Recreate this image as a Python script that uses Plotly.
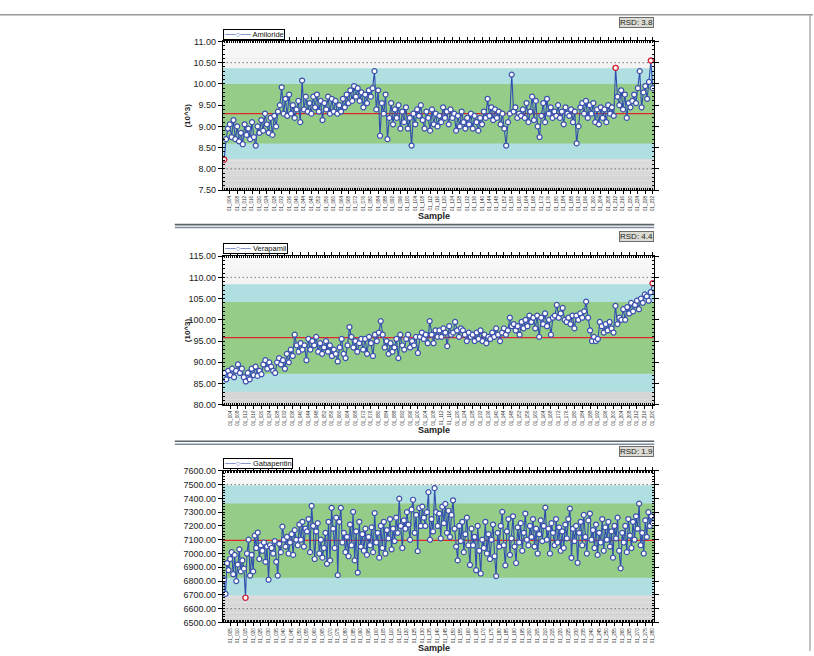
import plotly.graph_objects as go

# ---------------- data ----------------
amiloride = [
    8.22, 8.70, 8.95, 9.05, 8.75, 9.15, 8.70, 9.00, 8.65, 8.85,
    8.58, 9.05, 8.80, 8.95, 8.70, 9.10, 8.75, 8.55, 9.00, 8.85,
    9.15, 8.90, 9.30, 9.05, 8.85, 9.20, 8.80, 9.25, 9.00, 9.35,
    9.50, 9.92, 9.30, 9.65, 9.25, 9.75, 9.30, 9.50, 9.20, 9.40,
    9.60, 9.10, 10.08, 9.40, 9.70, 9.35, 9.55, 9.30, 9.70, 9.45,
    9.75, 9.35, 9.60, 9.15, 9.55, 9.40, 9.70, 9.30, 9.65, 9.35,
    9.60, 9.30, 9.50, 9.35, 9.65, 9.45, 9.75, 9.55, 9.85, 9.60,
    9.95, 9.70, 9.90, 9.60, 9.80, 9.45, 9.75, 9.55, 9.85, 9.70,
    9.90, 10.30, 9.40, 9.85, 8.78, 9.55, 9.30, 9.75, 8.70, 9.20,
    9.55, 9.05, 9.40, 9.20, 9.50, 8.95, 9.35, 9.10, 9.45, 8.95,
    9.20, 8.55, 9.30, 9.05, 9.40, 9.25, 9.50, 9.15, 8.95, 9.35,
    9.20, 8.90, 9.40, 9.05, 9.30, 9.00, 9.25, 9.10, 9.45, 9.20,
    9.35, 9.05, 9.40, 9.20, 9.30, 8.90, 9.25, 9.00, 9.35, 9.10,
    8.95, 9.20, 9.05, 9.30, 8.95, 9.25, 9.10, 8.90, 9.20, 9.05,
    9.35, 9.20, 9.65, 9.25, 9.45, 9.15, 9.40, 9.20, 9.35, 9.05,
    9.30, 8.95, 8.55, 9.10, 9.30, 10.22, 9.35, 9.45, 9.20, 9.30,
    9.25, 9.40, 9.20, 9.55, 9.10, 9.35, 9.70, 9.15, 9.60, 9.00,
    8.75, 9.25, 9.55, 9.10, 9.65, 9.30, 9.45, 9.20, 9.35, 9.25,
    9.50, 9.20, 9.35, 9.05, 9.45, 9.30, 9.25, 9.40, 9.10, 9.35,
    8.60, 9.00, 9.45, 9.55, 9.30, 9.60, 9.20, 9.50, 9.30, 9.55,
    9.10, 9.40, 9.05, 9.45, 9.20, 9.40, 9.10, 9.50, 9.30, 9.45,
    9.25, 10.38, 9.70, 9.50, 9.85, 9.40, 9.75, 9.20, 9.55, 9.45,
    9.60, 9.75, 9.55, 9.90, 10.30, 9.45, 9.80, 9.95, 9.65, 10.05,
    10.55, 9.90,
]

verapamil = [
    87.5, 86.0, 88.0, 87.0, 88.5, 86.5, 88.0, 89.5, 87.5, 88.5,
    86.5, 85.5, 87.5, 86.0, 88.5, 87.0, 89.0, 86.8, 88.0, 87.2,
    89.5, 90.5, 88.5, 90.0, 89.0, 88.0, 87.5, 90.0, 91.0, 89.5,
    90.5, 88.5, 92.0, 90.0, 93.0, 91.5, 96.5, 94.0, 92.5, 94.5,
    93.0, 94.0, 90.5, 95.5, 93.0, 95.0, 94.0, 96.0, 92.5, 94.5,
    92.0, 93.5, 95.0, 92.5, 94.0, 91.5, 93.0, 92.0, 90.2, 93.5,
    95.5, 92.0, 91.0, 94.0, 98.3, 96.0, 93.5, 95.0, 92.5, 94.5,
    95.5, 93.0, 95.5, 92.0, 96.0, 94.5, 91.5, 96.5, 95.0, 97.0,
    99.7, 96.5, 93.5, 95.0, 92.0, 94.5, 92.5, 93.5, 95.5, 91.0,
    96.5, 94.0, 93.0, 95.5, 96.5, 93.5, 95.0, 94.0, 96.0, 92.2,
    96.0, 97.0, 95.5, 96.5, 94.5, 99.7, 96.5, 94.5, 97.5, 96.0,
    97.5, 96.0, 98.0, 97.0, 93.8, 98.5, 96.5, 97.0, 99.5, 97.5,
    96.0, 98.0, 97.5, 96.5, 95.0, 97.0, 96.0, 96.5, 95.0, 97.0,
    95.5, 97.5, 95.0, 96.5, 94.5, 96.0, 95.5, 97.0, 96.0, 98.0,
    96.5, 95.0, 97.0, 98.0, 96.5, 97.5, 100.5, 98.5, 99.0, 97.5,
    98.5, 96.5, 99.5, 98.0, 100.0, 98.5, 101.0, 99.5, 100.5, 98.0,
    101.0, 96.0, 100.5, 99.0, 101.5, 98.5, 100.0, 96.5, 100.5, 101.0,
    103.5, 100.5, 101.5, 102.8, 100.0, 99.5, 100.5, 99.0, 101.0, 98.0,
    101.0, 100.0, 101.5, 100.5, 102.0, 104.3, 100.5, 97.5, 95.0, 96.0,
    95.0, 95.5, 99.5, 98.5, 97.0, 99.0, 97.5, 99.5, 98.0, 97.0,
    103.3, 99.0, 100.5, 100.0, 102.5, 100.0, 103.0, 101.5, 104.0, 102.0,
    103.5, 104.5, 102.5, 105.0, 104.0, 106.0, 105.5, 104.5, 106.5, 108.6,
]

gabapentin = [
    6810, 6707, 6930, 6880, 6960, 7010, 6850, 6990, 6800, 6920,
    7030, 6870, 6950, 6890, 6679, 7000, 7100, 6840, 6990, 6870,
    7130, 7040, 7152, 6960, 7060, 7020, 7080, 6940, 7050, 6810,
    7060, 7040, 7000, 7090, 6940, 6840, 7070, 7010, 7195, 7100,
    7050, 7120, 7000, 7080, 7140, 6990, 7170, 7100, 7060, 7210,
    7100, 7230, 7050, 7180, 7160, 7250, 7010, 7345, 7200, 6960,
    7160, 7220, 7000, 7100, 6970, 7040, 7150, 6926, 7230, 6950,
    7331, 7180, 7040, 7260, 6843, 7230, 7331, 7080, 7150, 7010,
    7120, 6980, 7210, 7060, 7302, 6950, 7160, 6862, 7230, 7050,
    7140, 7020, 7180, 6990, 7120, 7060, 7190, 7010, 7293, 7080,
    7150, 6970, 7200, 7040, 7230, 7000, 7170, 7110, 7250, 7030,
    7180, 7090, 7260, 7150, 7398, 7200, 7040, 7240, 7180, 7300,
    7210, 7100, 7320, 7390, 7150, 7280, 7017, 7330, 7200, 7340,
    7260, 7200, 7300, 7445, 7100, 7250, 7160, 7474, 7300, 7200,
    7290, 7110, 7340, 7220, 7360, 7150, 7310, 7120, 7280, 7386,
    7180, 7050, 6950, 7200, 7090, 7230, 7010, 7140, 7260, 7060,
    6917, 7180, 7060, 7120, 6879, 7200, 7020, 6855, 7100, 7040,
    7230, 7000, 7140, 6960, 7100, 7210, 6980, 6836, 7150, 7050,
    7200, 7302, 7060, 6914, 7160, 7250, 6990, 7110, 7270, 7050,
    6931, 7190, 7080, 7220, 7020, 7150, 7290, 7100, 7060, 7200,
    7120, 7250, 7050, 7180, 7000, 7140, 7240, 7090, 7200, 7333,
    7100, 7180, 7000, 7220, 7150, 7060, 7250, 7080, 7190, 7020,
    7160, 7040, 7210, 7110, 7250, 7326, 6969, 7180, 7090, 7200,
    6933, 7150, 7230, 7060, 7280, 7120, 7000, 7240, 7290, 7100,
    7170, 7040, 7210, 6990, 7150, 7080, 7250, 7020, 7190, 7100,
    7230, 7050, 7160, 6970, 7200, 7110, 7260, 7020, 6893, 7150,
    7080, 7200, 7010, 7250, 7130, 7040, 7230, 7100, 7270, 7180,
    7362, 7060, 7150, 7000, 7240, 7120, 7300, 7200, 7270, 7220,
]

compounds = ["Amiloride", "Verapamil", "Gabapentin"]
rsd_values = ["3.8", "4.4", "1.9"]
mean_values = [9.30, 95.8, 7095]
inner_limits = [[8.60, 10.00], [87.3, 104.2], [6825, 7362]]
outer_limits = [[8.23, 10.37], [83.1, 108.4], [6697, 7495]]
dotted_lines = [[8.00, 10.50], [110.0], [6600, 7500]]
y_ranges = [[7.5, 11.0], [80.0, 115.0], [6500, 7600]]
y_dticks = [0.5, 5.0, 100.0]
y_titles = ["(10^3)", "(10^3)", ""]
label_every = [4, 4, 5]

series = [amiloride, verapamil, gabapentin]

# ---------------- layout helpers ----------------
W, H = 814, 656
def px(x):
    return x / W
def py(y):
    return 1 - y / H

plot_left, plot_right = 223, 655
panel_tops = [37, 255, 473]
panel_bottoms = [188, 406, 627]

LINE_BLUE = "#2f4fb0"

fig = go.Figure()
shapes = []
annotations = []

grad_top = (248, 248, 248)
grad_bot = (212, 212, 212)
n_strips = 30

for i, vals in enumerate(series):
    k = "" if i == 0 else str(i + 1)
    xa, ya = "x" + k, "y" + k
    n = len(vals)
    xs = list(range(1, n + 1))
    sample_ids = ["01_%03d" % (j + 1) for j in range(n)]
    tickvals = xs[label_every[i] - 1::label_every[i]]
    ticktext = sample_ids[label_every[i] - 1::label_every[i]]

    fig.add_trace(go.Scatter(
        x=xs, y=vals, xaxis=xa, yaxis=ya, mode="lines+markers",
        name=compounds[i], showlegend=False,
        line=dict(color=LINE_BLUE, width=1.1),
        marker=dict(symbol="circle", size=5, color="white",
                    line=dict(color="#3a4fae", width=1.2)),
        hoverinfo="skip",
    ))
    lo, hi = outer_limits[i]
    ox = [x for x, v in zip(xs, vals) if v < lo or v > hi]
    oy = [v for v in vals if v < lo or v > hi]
    fig.add_trace(go.Scatter(
        x=ox, y=oy, xaxis=xa, yaxis=ya, mode="markers", showlegend=False,
        marker=dict(symbol="circle", size=5, color="white",
                    line=dict(color="#e8202a", width=1.2)),
        hoverinfo="skip",
    ))

    dom_x = [px(plot_left), px(plot_right)]
    dom_y = [py(panel_bottoms[i]), py(panel_tops[i])]
    axis_font = dict(family="Liberation Sans", size=9, color="#222")
    fig.update_layout(**{
        "xaxis" + k: dict(
            domain=dom_x, anchor=ya, range=[0.2, n + 0.8],
            tickmode="array", tickvals=tickvals, ticktext=ticktext,
            tickangle=-90, tickfont=dict(family="Liberation Sans", size=4.5, color="#2a2a2a"),
            ticks="outside", ticklen=3, tickcolor="black",
            showline=True, linecolor="black", linewidth=1, mirror="allticks",
            showgrid=False, zeroline=False,
            minor=dict(tickmode="linear", tick0=1, dtick=1, ticks="inside",
                       ticklen=2, tickcolor="black", showgrid=False),
        ),
        "yaxis" + k: dict(
            domain=dom_y, anchor=xa, range=y_ranges[i],
            tickmode="linear", tick0=y_ranges[i][0], dtick=y_dticks[i],
            tickformat=".2f", tickfont=axis_font,
            ticks="outside", ticklen=4, tickcolor="black",
            showline=True, linecolor="black", linewidth=1, mirror="allticks",
            showgrid=False, zeroline=False,
            minor=dict(nticks=6, ticks="inside", ticklen=2, tickcolor="black",
                       showgrid=False),
        ),
    })

    # gradient background
    for s in range(n_strips):
        t = s / (n_strips - 1)
        c = tuple(int(round(grad_top[j] + (grad_bot[j] - grad_top[j]) * t)) for j in range(3))
        shapes.append(dict(type="rect", xref=xa + " domain", yref=ya + " domain",
                           x0=0, x1=1, y0=1 - (s + 1) / n_strips, y1=1 - s / n_strips,
                           fillcolor="rgb(%d,%d,%d)" % c, line=dict(width=0), layer="below"))
    shapes.append(dict(type="rect", xref=xa + " domain", yref=ya, x0=0, x1=1,
                       y0=outer_limits[i][0], y1=outer_limits[i][1],
                       fillcolor="#b0dfe1", line=dict(width=0), layer="below"))
    shapes.append(dict(type="rect", xref=xa + " domain", yref=ya, x0=0, x1=1,
                       y0=inner_limits[i][0], y1=inner_limits[i][1],
                       fillcolor="#95cc88", line=dict(width=0), layer="below"))
    for d in dotted_lines[i]:
        shapes.append(dict(type="line", xref=xa + " domain", yref=ya, x0=0, x1=1,
                           y0=d, y1=d, line=dict(color="#444", width=1, dash="1px,3px"),
                           layer="below"))
    shapes.append(dict(type="line", xref=xa + " domain", yref=ya, x0=0, x1=1,
                       y0=mean_values[i], y1=mean_values[i],
                       line=dict(color="#e3262b", width=1.2), layer="below"))

    # legend box (series name with line/marker glyph)
    annotations.append(dict(
        text='<span style="color:%s">\u2500\u2500\u25cb\u2500\u2500</span> %s' % (LINE_BLUE, compounds[i]),
        xref="paper", yref="paper",
        x=px(plot_left), y=py(panel_tops[i] - 13), xanchor="left", yanchor="top",
        showarrow=False, font=dict(family="Liberation Sans", size=7.5, color="#111"),
        bgcolor="white", bordercolor="black", borderwidth=1, borderpad=0,
    ))
    # RSD box
    annotations.append(dict(
        text="RSD: " + rsd_values[i], xref="paper", yref="paper",
        x=px(plot_right), y=py(panel_tops[i] - 25), xanchor="right", yanchor="top",
        showarrow=False, font=dict(family="Liberation Sans", size=8, color="#222"),
        bgcolor="#dcdcd4", bordercolor="#6c6c6c", borderwidth=1, borderpad=0,
    ))
    # x title
    annotations.append(dict(
        text="<b>Sample</b>", xref="paper", yref="paper",
        x=px((plot_left + plot_right) / 2 - 4), y=py(panel_bottoms[i] + 26),
        xanchor="center", yanchor="middle", showarrow=False,
        font=dict(family="Liberation Sans", size=9, color="#222"),
    ))
    if y_titles[i]:
        annotations.append(dict(
            text="<b>" + y_titles[i] + "</b>", xref="paper", yref="paper",
            x=px(188), y=py((panel_tops[i] + panel_bottoms[i]) / 2),
            xanchor="center", yanchor="middle", textangle=-90, showarrow=False,
            font=dict(family="Liberation Sans", size=8, color="#222"),
        ))

# page frame and panel separators
shapes.append(dict(type="line", xref="paper", yref="paper", x0=0, x1=1,
                   y0=py(10), y1=py(10), line=dict(color="#9a9a9a", width=1.5)))
shapes.append(dict(type="line", xref="paper", yref="paper", x0=px(811), x1=px(811),
                   y0=py(10), y1=0, line=dict(color="#9a9a9a", width=1.2)))
for ysep in [224, 444]:
    shapes.append(dict(type="line", xref="paper", yref="paper", x0=px(175), x1=px(655),
                       y0=py(ysep - 1), y1=py(ysep - 1), line=dict(color="#5b636b", width=1.6)))
    shapes.append(dict(type="line", xref="paper", yref="paper", x0=px(175), x1=px(655),
                       y0=py(ysep + 2), y1=py(ysep + 2), line=dict(color="#7d8c9a", width=1.6)))

fig.update_layout(
    width=W, height=H, margin=dict(l=0, r=0, t=0, b=0),
    paper_bgcolor="white", plot_bgcolor="white",
    shapes=shapes, annotations=annotations, showlegend=False,
    font=dict(family="Liberation Sans"),
)

fig.write_html(
    "out.html",
    config={"displayModeBar": False},
    post_script="document.body.style.margin='0';document.body.style.overflow='hidden';",
)
